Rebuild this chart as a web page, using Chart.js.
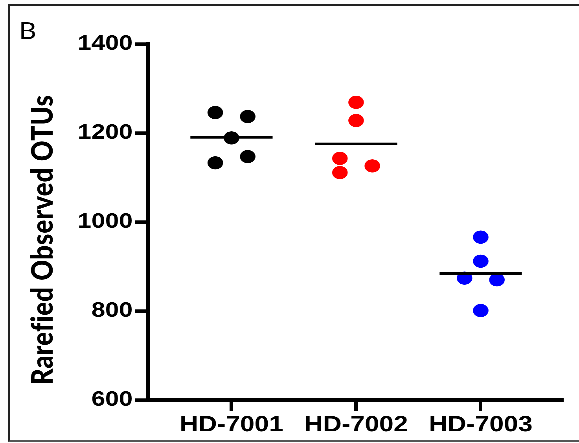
<!DOCTYPE html>
<html>
<head>
<meta charset="utf-8">
<script src="https://cdn.jsdelivr.net/npm/chart.js@4.4.1/dist/chart.umd.min.js"></script>
<style>
  html, body { margin: 0; padding: 0; background: #fff; }
  body { width: 579px; height: 443px; overflow: hidden; position: relative; }
  #frame {
    position: absolute; left: 8px; top: 4px; width: 620px; height: 434px;
    border-left: 2px solid #222; border-top: 2px solid #222; border-bottom: 2px solid #555;
  }
  /* the figure is laid out narrow and widened horizontally */
  #wrap {
    position: absolute; left: 0; top: 0; width: 491px; height: 443px;
    transform-origin: 0 0; transform: scaleX(1.1792);
  }
</style>
</head>
<body>
<div id="frame"></div>
<div id="wrap"><canvas id="c" width="491" height="443"></canvas></div>
<script>
// Groups and per-sample observed OTU counts
const categories = ['HD-7001', 'HD-7002', 'HD-7003'];
const hd7001 = [1246, 1237, 1189, 1133, 1147];
const hd7002 = [1269, 1228, 1143, 1111, 1126];
const hd7003 = [966, 912, 874, 870, 801];
// horizontal spread of the dots inside each group (in category units)
const spread7001 = [-0.13, 0.13, 0, -0.13, 0.13];
const spread7002 = [0, 0, -0.13, -0.13, 0.13];
const spread7003 = [0, 0, -0.13, 0.13, 0];
const yTicks = [600, 800, 1000, 1200, 1400];
const yTitle = 'Rarefied Observed OTUs';
const panelLetter = 'B';

const groupValues = [hd7001, hd7002, hd7003];
const groupSpread = [spread7001, spread7002, spread7003];
const groupColors = ['#000000', '#ff0000', '#0000ff'];
const meanHalfWidth = 0.33;

const mean = arr => arr.reduce((a, b) => a + b, 0) / arr.length;

const datasets = [];
groupValues.forEach((vals, g) => {
  const m = mean(vals);
  datasets.push({
    label: categories[g] + ' mean',
    data: [{ x: g + 1 - meanHalfWidth, y: m }, { x: g + 1 + meanHalfWidth, y: m }],
    showLine: true,
    borderColor: '#000',
    borderWidth: 2.7,
    pointRadius: 0,
    order: 0
  });
  datasets.push({
    label: categories[g],
    data: vals.map((v, i) => ({ x: g + 1 + groupSpread[g][i], y: v })),
    backgroundColor: groupColors[g],
    borderWidth: 0,
    pointRadius: 6.6,
    pointHoverRadius: 6.6,
    order: 1
  });
});

const textLayer = {
  id: 'textLayer',
  afterDraw(chart) {
    const ctx = chart.ctx;
    ctx.save();
    ctx.fillStyle = '#000';
    ctx.font = '900 25.5px Lato';
    ctx.letterSpacing = '0.25px';
    ctx.textAlign = 'center';
    ctx.textBaseline = 'middle';
    ctx.translate(36.5, 240);
    ctx.rotate(-Math.PI / 2);
    ctx.fillText(yTitle, 0, 0);
    ctx.restore();

    ctx.save();
    ctx.fillStyle = '#000';
    ctx.font = '23px Lato';
    ctx.textAlign = 'left';
    ctx.textBaseline = 'alphabetic';
    ctx.fillText(panelLetter, 16, 39);
    ctx.restore();
  }
};

new Chart(document.getElementById('c'), {
  type: 'scatter',
  data: { datasets },
  plugins: [textLayer],
  options: {
    responsive: false,
    devicePixelRatio: 3,
    animation: false,
    layout: { padding: { left: 0, top: 44, right: 13.6, bottom: 0 } },
    plugins: { legend: { display: false }, tooltip: { enabled: false } },
    scales: {
      x: {
        type: 'linear',
        min: 0.33,
        max: 3.66,
        afterBuildTicks: s => { s.ticks = categories.map((_, i) => ({ value: i + 1 })); },
        afterFit: s => { s.height = 43; },
        ticks: {
          callback: v => categories[v - 1] || '',
          color: '#000',
          font: { family: 'Liberation Sans', weight: 'bold', size: 22 },
          padding: 1,
          maxRotation: 0,
          autoSkip: false
        },
        grid: { drawOnChartArea: false, drawTicks: true, tickLength: 11, tickWidth: 3, tickColor: '#000', color: '#000' },
        border: { display: true, color: '#000', width: 3.5 }
      },
      y: {
        min: 600,
        max: 1400,
        afterBuildTicks: s => { s.ticks = yTicks.map(v => ({ value: v })); },
        afterFit: s => { s.width = 125.5; },
        ticks: {
          callback: v => String(v),
          color: '#000',
          font: { family: 'Liberation Sans', weight: 'bold', size: 21 },
          padding: 2
        },
        grid: { drawOnChartArea: false, drawTicks: true, tickLength: 11, tickWidth: 3.5, tickColor: '#000', color: '#000' },
        border: { display: true, color: '#000', width: 3.4 }
      }
    }
  }
});
</script>
</body>
</html>
